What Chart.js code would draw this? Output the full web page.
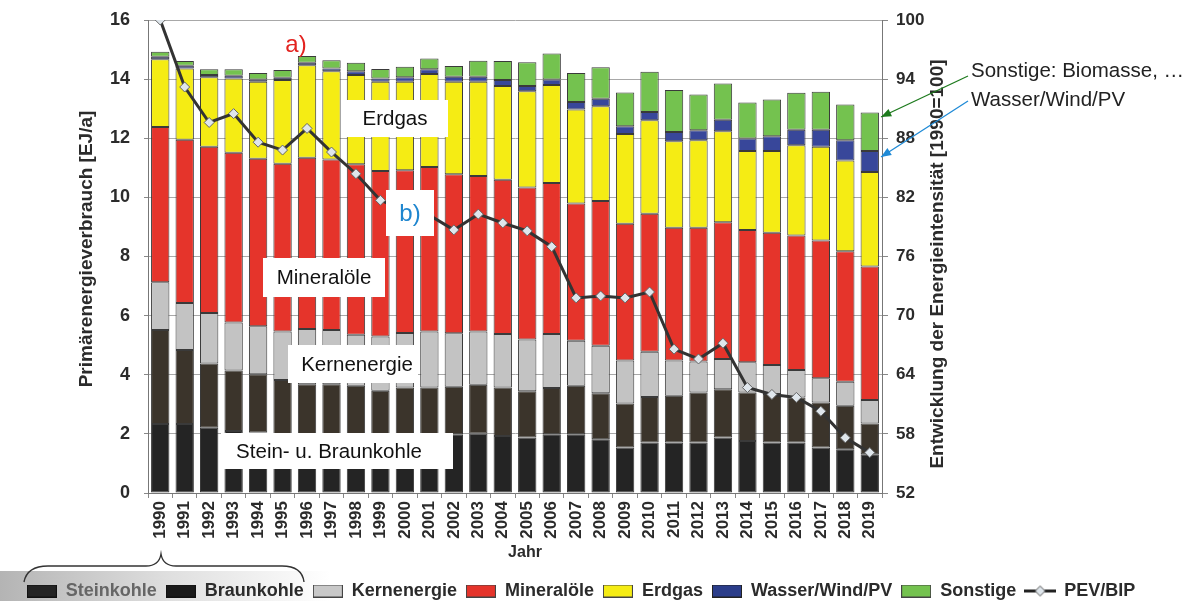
<!DOCTYPE html>
<html>
<head>
<meta charset="utf-8">
<script src="https://cdn.jsdelivr.net/npm/chart.js@4.4.1/dist/chart.umd.min.js"></script>
<style>
  html, body { margin: 0; padding: 0; background: #fff; }
  #wrap { width: 1192px; height: 601px; }
</style>
</head>
<body>
<div id="wrap"><canvas id="myGraph" width="1192" height="601"></canvas></div>
<script>
////////////////// DATA //////////////////
const years = ["1990","1991","1992","1993","1994","1995","1996","1997","1998","1999",
               "2000","2001","2002","2003","2004","2005","2006","2007","2008","2009",
               "2010","2011","2012","2013","2014","2015","2016","2017","2018","2019"];

// EJ/a per source
const steinkohle   = [2.33,2.33,2.21,2.10,2.05,2.00,2.00,2.00,2.00,1.99,2.00,2.00,1.99,2.01,1.93,1.88,1.99,1.99,1.82,1.54,1.71,1.71,1.71,1.88,1.76,1.71,1.71,1.54,1.48,1.31];
const braunkohle   = [3.18,2.51,2.17,2.04,1.97,1.82,1.68,1.68,1.63,1.47,1.57,1.57,1.60,1.65,1.64,1.56,1.56,1.64,1.55,1.49,1.54,1.58,1.69,1.63,1.64,1.64,1.52,1.52,1.47,1.04];
const kernenergie  = [1.62,1.59,1.71,1.63,1.62,1.64,1.87,1.83,1.72,1.83,1.84,1.89,1.81,1.80,1.81,1.75,1.83,1.52,1.61,1.45,1.53,1.19,1.05,1.02,1.02,0.98,0.93,0.82,0.81,0.80];
const mineraloele  = [5.25,5.52,5.62,5.74,5.67,5.68,5.79,5.77,5.77,5.60,5.51,5.57,5.38,5.26,5.22,5.14,5.11,4.64,4.90,4.63,4.67,4.49,4.52,4.63,4.48,4.47,4.55,4.66,4.42,4.51];
const erdgas       = [2.29,2.41,2.35,2.51,2.60,2.83,3.13,2.99,3.02,3.02,2.99,3.14,3.13,3.19,3.17,3.26,3.31,3.18,3.20,3.03,3.16,2.93,2.96,3.08,2.67,2.77,3.05,3.17,3.07,3.20];
const wasserWindPV = [0.09,0.09,0.08,0.09,0.08,0.08,0.08,0.09,0.13,0.11,0.15,0.16,0.17,0.17,0.20,0.18,0.19,0.26,0.26,0.27,0.28,0.31,0.34,0.39,0.42,0.50,0.53,0.58,0.68,0.71];
const sonstige     = [0.17,0.16,0.19,0.22,0.22,0.26,0.23,0.28,0.28,0.32,0.36,0.37,0.36,0.54,0.64,0.80,0.88,0.98,1.06,1.14,1.36,1.42,1.21,1.22,1.22,1.24,1.25,1.28,1.21,1.30];

// Energieintensitaet, 1990 = 100
const pevBip = [100,93.2,89.6,90.5,87.6,86.8,89.0,86.6,84.4,81.7,80.7,80.2,78.7,80.3,79.4,78.6,77.0,71.8,72.0,71.8,72.4,66.6,65.6,67.2,62.7,62.0,61.7,60.3,57.6,56.1];

const leftTicks = { min: 0, max: 16, step: 2 };
const rightTicks = { min: 52, max: 100, step: 6 };

////////////////// STYLE //////////////////
const FONT = "'Liberation Sans', Arial, sans-serif";
const TXT = "#2b2b2b";

function swatch(fill, stroke) {
    const c = document.createElement("canvas");
    c.width = 30; c.height = 13;
    const g = c.getContext("2d");
    g.fillStyle = fill;
    g.fillRect(0.5, 0.5, 29, 12);
    g.strokeStyle = stroke;
    g.lineWidth = 1;
    g.strokeRect(0.5, 0.5, 29, 12);
    return c;
}

function lineIcon() {
    const c = document.createElement("canvas");
    c.width = 32; c.height = 13;
    const g = c.getContext("2d");
    g.strokeStyle = "#222";
    g.lineWidth = 3;
    g.beginPath(); g.moveTo(0, 6.5); g.lineTo(32, 6.5); g.stroke();
    g.fillStyle = "#dfe6ec";
    g.strokeStyle = "#555";
    g.lineWidth = 1;
    g.beginPath();
    g.moveTo(16, 1.5); g.lineTo(21, 6.5); g.lineTo(16, 11.5); g.lineTo(11, 6.5); g.closePath();
    g.fill(); g.stroke();
    return c;
}

const barBorder = "#3a3a3a";

function barSet(label, data, color) {
    return {
        type: "bar",
        label: label,
        data: data,
        backgroundColor: color,
        borderColor: barBorder,
        borderWidth: 1,
        borderSkipped: false,
        yAxisID: "y",
        stack: "pev",
        order: 1,
        barPercentage: 0.75,
        categoryPercentage: 1.0
    };
}

const datasets = [
    barSet("Steinkohle", steinkohle, "#242424"),
    barSet("Braunkohle", braunkohle, "#3b342b"),
    barSet("Kernenergie", kernenergie, "#c3c3c3"),
    barSet("Mineralöle", mineraloele, "#e5342b"),
    barSet("Erdgas", erdgas, "#f5ec14"),
    barSet("Wasser/Wind/PV", wasserWindPV, "#38479a"),
    barSet("Sonstige", sonstige, "#74c24f"),
    {
        type: "line",
        label: "PEV/BIP",
        data: pevBip,
        yAxisID: "y2",
        borderColor: "#333",
        borderWidth: 3,
        pointStyle: "rectRot",
        pointRadius: 5,
        pointBackgroundColor: "#dfe6ec",
        pointBorderColor: "#666",
        pointBorderWidth: 1,
        tension: 0,
        order: 0
    }
];

const icons = [
    swatch("#242424", "#111"),
    swatch("#1a1a1a", "#111"),
    swatch("#c8c8c8", "#444"),
    swatch("#e5342b", "#444"),
    swatch("#f5ec14", "#444"),
    swatch("#2b3d8a", "#222"),
    swatch("#74c24f", "#444"),
    lineIcon()
];

////////////////// ANNOTATIONS //////////////////
const LABEL_FONT = "20.5px " + FONT;

function boxLabel(ctx, text, x0, y0, x1, y1, tx, color, font) {
    ctx.fillStyle = "#fff";
    ctx.fillRect(x0, y0, x1 - x0, y1 - y0);
    ctx.fillStyle = color;
    ctx.font = font;
    ctx.textAlign = "center";
    ctx.textBaseline = "middle";
    ctx.fillText(text, tx, (y0 + y1) / 2 + 1);
}

function arrow(ctx, x0, y0, x1, y1, color) {
    ctx.strokeStyle = color;
    ctx.fillStyle = color;
    ctx.lineWidth = 1.3;
    ctx.beginPath(); ctx.moveTo(x0, y0); ctx.lineTo(x1, y1); ctx.stroke();
    const a = Math.atan2(y1 - y0, x1 - x0);
    const len = 11, w = 0.38;
    ctx.beginPath();
    ctx.moveTo(x1, y1);
    ctx.lineTo(x1 - len * Math.cos(a - w), y1 - len * Math.sin(a - w));
    ctx.lineTo(x1 - len * Math.cos(a + w), y1 - len * Math.sin(a + w));
    ctx.closePath(); ctx.fill();
}

function rotatedText(ctx, text, x, y, font) {
    ctx.save();
    ctx.translate(x, y);
    ctx.rotate(-Math.PI / 2);
    ctx.fillStyle = TXT;
    ctx.font = font;
    ctx.textAlign = "center";
    ctx.textBaseline = "middle";
    ctx.fillText(text, 0, 0);
    ctx.restore();
}

// vertical axes: no extra room above / below for their end labels
function trimPadding(scale) {
    scale.paddingTop = 0;
    scale.paddingBottom = 0;
}

const annotations = {
    id: "annotations",
    afterLayout(chart) {
        // legend sits low in the picture, close to the bottom edge
        const lg = chart.legend;
        lg.top += 9;
        lg.bottom += 9;
    },
    beforeDraw(chart) {
        const ctx = chart.ctx;
        // grey scan band behind the left part of the legend
        const grad = ctx.createLinearGradient(0, 0, 330, 0);
        grad.addColorStop(0, "rgba(180,180,180,1)");
        grad.addColorStop(0.5, "rgba(222,222,222,1)");
        grad.addColorStop(1, "rgba(255,255,255,1)");
        ctx.save();
        ctx.fillStyle = grad;
        ctx.fillRect(0, 571, 330, 30);
        ctx.restore();
    },
    afterDatasetsDraw(chart) {
        const ctx = chart.ctx;
        ctx.save();
        boxLabel(ctx, "Erdgas", 342, 100, 448, 137, 395, "#111", LABEL_FONT);
        boxLabel(ctx, "Mineralöle", 263, 258, 385, 297, 324, "#111", LABEL_FONT);
        boxLabel(ctx, "Kernenergie", 288, 345, 418, 383, 357, "#111", LABEL_FONT);
        boxLabel(ctx, "Stein- u. Braunkohle", 221, 433, 453, 469, 329, "#111", LABEL_FONT);
        boxLabel(ctx, "b)", 386, 190, 434, 236, 410, "#1f86cf", "24px " + FONT);

        ctx.fillStyle = "#e3231f";
        ctx.font = "24px " + FONT;
        ctx.textAlign = "center";
        ctx.textBaseline = "middle";
        ctx.fillText("a)", 296, 45);
        ctx.restore();
    },
    afterDraw(chart) {
        const ctx = chart.ctx;
        const x = chart.scales.x;
        // axis titles
        rotatedText(ctx, "Primärenergieverbrauch [EJ/a]", 87, 249, "bold 19px " + FONT);
        rotatedText(ctx, "Entwicklung der Energieintensität [1990=100]", 938, 264, "bold 19px " + FONT);

        ctx.save();
        ctx.fillStyle = TXT;
        ctx.font = "bold 16px " + FONT;
        ctx.textAlign = "center";
        ctx.textBaseline = "middle";
        ctx.fillText("Jahr", (x.left + x.right) / 2 + 10, 553);

        ctx.fillStyle = "#222";
        ctx.font = "20.5px " + FONT;
        ctx.textAlign = "left";
        ctx.fillText("Sonstige: Biomasse, …", 971, 71);
        ctx.fillText("Wasser/Wind/PV", 971, 100);
        arrow(ctx, 968, 76, 881, 117, "#1d7a1d");
        arrow(ctx, 968, 101, 881, 157, "#1f8ad6");

        // brace over Steinkohle + Braunkohle
        ctx.strokeStyle = "#333";
        ctx.lineWidth = 1.4;
        ctx.beginPath();
        ctx.moveTo(24, 582);
        ctx.quadraticCurveTo(27, 566, 48, 566);
        ctx.lineTo(146, 566);
        ctx.quadraticCurveTo(159, 566, 161, 554);
        ctx.quadraticCurveTo(163, 566, 176, 566);
        ctx.lineTo(282, 566);
        ctx.quadraticCurveTo(302, 566, 304, 582);
        ctx.stroke();
        ctx.restore();
    }
};

////////////////// CHART //////////////////
const ctx = document.getElementById("myGraph");

let myChart = new Chart(ctx, {
    data: {
        labels: years,
        datasets: datasets
    },
    options: {
        responsive: false,
        animation: false,
        layout: { padding: { left: 0, right: 30, top: 20, bottom: 0 } },
        plugins: {
            tooltip: { enabled: false },
            legend: {
                position: "bottom",
                labels: {
                    usePointStyle: true,
                    pointStyleWidth: 30,
                    padding: 9,
                    color: TXT,
                    font: { family: FONT, size: 18, weight: "bold" },
                    generateLabels: (chart) => chart.data.datasets.map((ds, i) => ({
                        text: ds.label,
                        pointStyle: icons[i],
                        datasetIndex: i,
                        hidden: false,
                        fontColor: i === 0 ? "#666" : TXT,
                        lineWidth: 0,
                        strokeStyle: "rgba(0,0,0,0)",
                        fillStyle: "rgba(0,0,0,0)"
                    }))
                }
            }
        },
        scales: {
            x: {
                stacked: true,
                offset: true,
                grid: { display: true, drawOnChartArea: false, offset: true, tickLength: 5, color: "#888" },
                border: { color: "#777" },
                ticks: {
                    minRotation: 90, maxRotation: 90, autoSkip: false,
                    color: TXT, padding: 3,
                    font: { family: FONT, size: 17, weight: "bold" }
                },
                afterFit: (scale) => {
                    scale.height = 71;
                    scale.paddingLeft = 0;
                    scale.paddingRight = 0;
                    scale.paddingTop = 0;
                    scale.paddingBottom = 0;
                }
            },
            y: {
                position: "left",
                stacked: true,
                min: leftTicks.min, max: leftTicks.max,
                ticks: {
                    stepSize: leftTicks.step, color: TXT, padding: 14,
                    font: { family: FONT, size: 18, weight: "bold" }
                },
                grid: { color: "#a8a8a8", tickLength: 4, tickColor: "#888" },
                border: { color: "#777" },
                afterFit: (scale) => { scale.width = 148; trimPadding(scale); }
            },
            y2: {
                position: "right",
                min: rightTicks.min, max: rightTicks.max,
                ticks: {
                    stepSize: rightTicks.step, color: TXT, padding: 8,
                    font: { family: FONT, size: 17, weight: "bold" }
                },
                grid: { drawOnChartArea: false, tickLength: 6, color: "#888" },
                border: { color: "#777" },
                afterFit: (scale) => { scale.width = 280; trimPadding(scale); }
            }
        }
    },
    plugins: [annotations]
});
</script>
</body>
</html>
